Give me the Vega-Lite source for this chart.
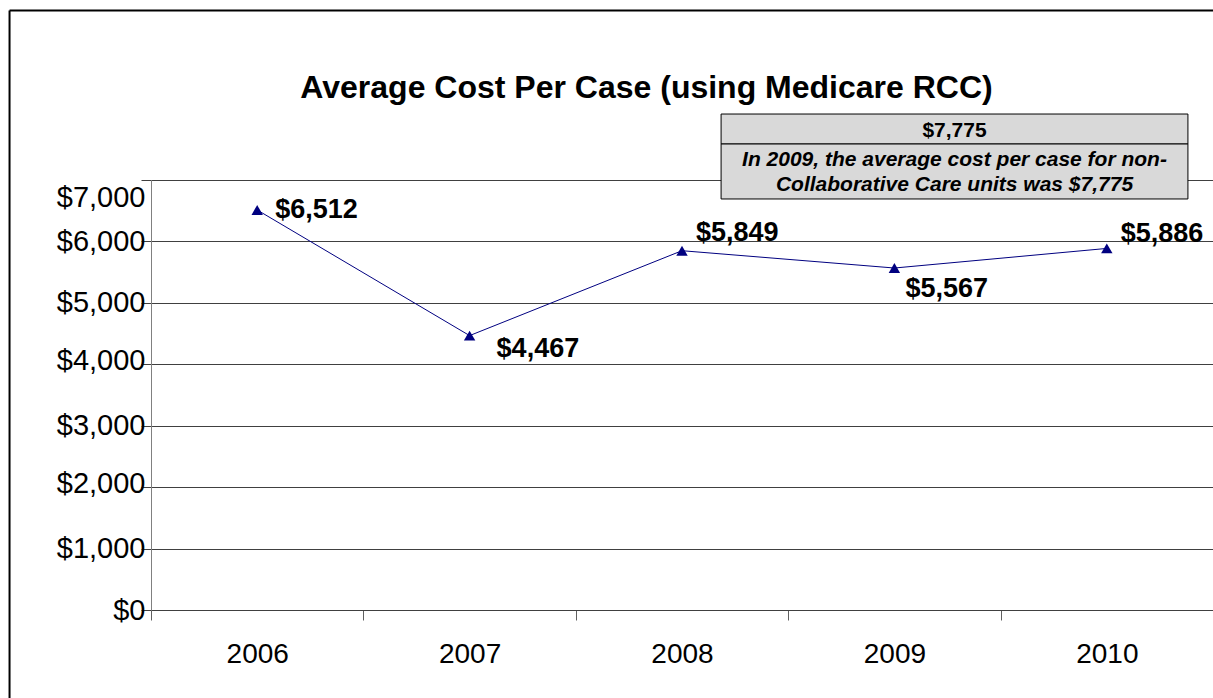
{
  "$schema": "https://vega.github.io/schema/vega-lite/v6.json",
  "width": 1062,
  "height": 430,
  "autosize": "none",
  "padding": {"left": 151, "top": 180, "right": 0, "bottom": 88},
  "background": "white",
  "config": {"view": {"stroke": null}, "font": "Liberation Sans"},
  "data": {"values": [
    {"year": "2006", "cost": 6512},
    {"year": "2007", "cost": 4467},
    {"year": "2008", "cost": 5849},
    {"year": "2009", "cost": 5567},
    {"year": "2010", "cost": 5886}
  ]},
  "layer": [
    {
      "encoding": {
        "x": {"field": "year", "type": "ordinal", "scale": {"paddingInner": 0, "paddingOuter": 0},
          "axis": {"title": null, "labelAngle": 0, "tickBand": "extent", "tickSize": 10, "tickColor": "#606060", "domainColor": "#404040",
            "labelFontSize": 28, "labelFont": "Liberation Sans", "labelColor": "black", "labelPadding": 20, "grid": false}},
        "y": {"field": "cost", "type": "quantitative", "scale": {"domain": [0, 7000], "nice": false},
          "axis": {"title": null, "values": [0, 1000, 2000, 3000, 4000, 5000, 6000, 7000], "format": "$,.0f",
            "labelFontSize": 29, "labelFont": "Liberation Sans", "labelColor": "black", "labelPadding": -4,
            "labelOffset": {"expr": "datum.value == 7000 ? 17 : (datum.value == 4000 || datum.value == 2000 ? -4 : 0)"},
            "tickSize": 10, "tickColor": "#404040", "domainColor": "#808080", "grid": true, "gridColor": "#404040", "gridOpacity": 1}}
      },
      "layer": [
        {"mark": {"type": "line", "color": "#000080", "strokeWidth": 1}},
        {"mark": {"type": "point", "shape": "triangle-up", "filled": true, "size": 130, "color": "#000080", "opacity": 1}},
        {"transform": [{"filter": "datum.year == '2006'"}],
         "mark": {"type": "text", "align": "left", "baseline": "middle", "dx": 18, "dy": 0, "fontSize": 27, "fontWeight": "bold", "color": "black"},
         "encoding": {"text": {"field": "cost", "type": "quantitative", "format": "$,.0f"}}},
        {"transform": [{"filter": "datum.year == '2007'"}],
         "mark": {"type": "text", "align": "left", "baseline": "middle", "dx": 27, "dy": 13, "fontSize": 27, "fontWeight": "bold", "color": "black"},
         "encoding": {"text": {"field": "cost", "type": "quantitative", "format": "$,.0f"}}},
        {"transform": [{"filter": "datum.year == '2008'"}],
         "mark": {"type": "text", "align": "left", "baseline": "middle", "dx": 14, "dy": -18, "fontSize": 27, "fontWeight": "bold", "color": "black"},
         "encoding": {"text": {"field": "cost", "type": "quantitative", "format": "$,.0f"}}},
        {"transform": [{"filter": "datum.year == '2009'"}],
         "mark": {"type": "text", "align": "left", "baseline": "middle", "dx": 11, "dy": 21, "fontSize": 27, "fontWeight": "bold", "color": "black"},
         "encoding": {"text": {"field": "cost", "type": "quantitative", "format": "$,.0f"}}},
        {"transform": [{"filter": "datum.year == '2010'"}],
         "mark": {"type": "text", "align": "left", "baseline": "middle", "dx": 14, "dy": -14, "fontSize": 27, "fontWeight": "bold", "color": "black"},
         "encoding": {"text": {"field": "cost", "type": "quantitative", "format": "$,.0f"}}}
      ]
    },
    {
      "data": {"values": [{"title": "Average Cost Per Case (using Medicare RCC)", "value": "$7,775", "line1": "In 2009, the average cost per case for non-", "line2": "Collaborative Care units was $7,775"}]},
      "layer": [
        {"mark": {"type": "rule", "stroke": "black", "strokeWidth": 2},
         "encoding": {
           "x": {"datum": 2004.834, "type": "quantitative", "scale": {"domain": [2005.5, 2010.5], "nice": false, "zero": false}, "axis": null},
           "y": {"datum": 9759, "type": "quantitative", "scale": {"domain": [0, 7000], "nice": false}},
           "y2": {"datum": -3000}}},
        {"mark": {"type": "rule", "stroke": "black", "strokeWidth": 2},
         "encoding": {
           "x": {"datum": 2004.834, "type": "quantitative", "scale": {"domain": [2005.5, 2010.5], "nice": false, "zero": false}, "axis": null},
           "x2": {"datum": 2010.5},
           "y": {"datum": 9759, "type": "quantitative", "scale": {"domain": [0, 7000], "nice": false}}}},
        {"mark": {"type": "rect", "fill": "#d9d9d9", "stroke": "black", "strokeWidth": 1},
         "encoding": {
           "x": {"datum": 2008.184, "type": "quantitative", "scale": {"domain": [2005.5, 2010.5], "nice": false, "zero": false}, "axis": null},
           "x2": {"datum": 2010.382},
           "y": {"datum": 8074, "type": "quantitative", "scale": {"domain": [0, 7000], "nice": false}},
           "y2": {"datum": 7586}}},
        {"mark": {"type": "rect", "fill": "#d9d9d9", "stroke": "black", "strokeWidth": 1},
         "encoding": {
           "x": {"datum": 2008.184, "type": "quantitative", "scale": {"domain": [2005.5, 2010.5], "nice": false, "zero": false}, "axis": null},
           "x2": {"datum": 2010.382},
           "y": {"datum": 7586, "type": "quantitative", "scale": {"domain": [0, 7000], "nice": false}},
           "y2": {"datum": 6691}}},
        {"mark": {"type": "text", "fontSize": 21, "fontWeight": "bold", "color": "black", "baseline": "middle", "align": "center"},
         "encoding": {
           "x": {"datum": 2009.283, "type": "quantitative", "scale": {"domain": [2005.5, 2010.5], "nice": false, "zero": false}, "axis": null},
           "y": {"datum": 7797, "type": "quantitative", "scale": {"domain": [0, 7000], "nice": false}},
           "text": {"field": "value"}}},
        {"mark": {"type": "text", "fontSize": 21, "fontWeight": "bold", "fontStyle": "italic", "color": "black", "baseline": "middle", "align": "center"},
         "encoding": {
           "x": {"datum": 2009.283, "type": "quantitative", "scale": {"domain": [2005.5, 2010.5], "nice": false, "zero": false}, "axis": null},
           "y": {"datum": 7325, "type": "quantitative", "scale": {"domain": [0, 7000], "nice": false}},
           "text": {"field": "line1"}}},
        {"mark": {"type": "text", "fontSize": 21, "fontWeight": "bold", "fontStyle": "italic", "color": "black", "baseline": "middle", "align": "center"},
         "encoding": {
           "x": {"datum": 2009.283, "type": "quantitative", "scale": {"domain": [2005.5, 2010.5], "nice": false, "zero": false}, "axis": null},
           "y": {"datum": 6918, "type": "quantitative", "scale": {"domain": [0, 7000], "nice": false}},
           "text": {"field": "line2"}}},
        {"mark": {"type": "text", "fontSize": 32, "fontWeight": "bold", "color": "black", "baseline": "middle", "align": "center"},
         "encoding": {
           "x": {"datum": 2007.833, "type": "quantitative", "scale": {"domain": [2005.5, 2010.5], "nice": false, "zero": false}, "axis": null},
           "y": {"datum": 8497, "type": "quantitative", "scale": {"domain": [0, 7000], "nice": false}},
           "text": {"field": "title"}}}
      ]
    }
  ],
  "resolve": {"scale": {"x": "independent"}}
}
